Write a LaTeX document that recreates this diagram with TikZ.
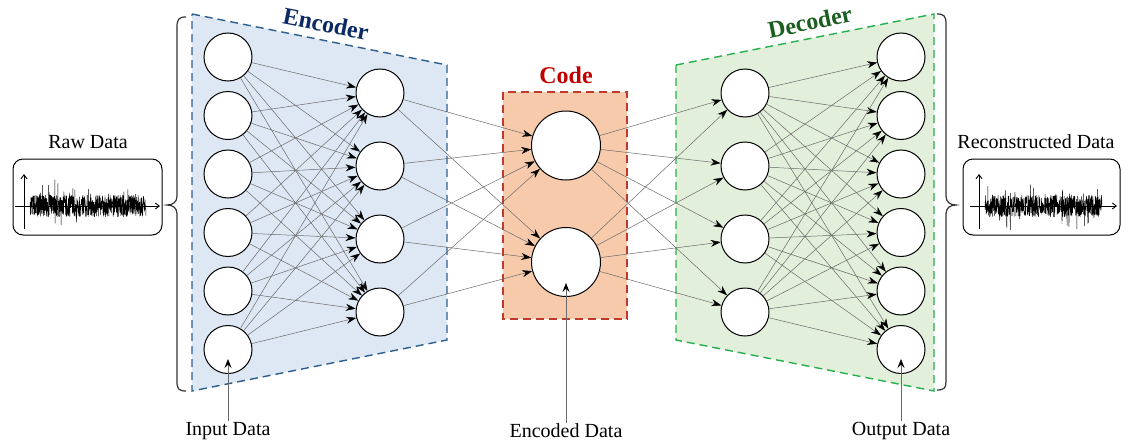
\documentclass[tikz,border=0pt]{standalone}
\usepackage{fontspec}
\setmainfont{Liberation Serif}
\usetikzlibrary{arrows.meta}

\definecolor{encfill}{HTML}{DEE8F4}
\definecolor{encline}{HTML}{2F5F8F}
\definecolor{enctext}{HTML}{0B2A63}
\definecolor{codefill}{HTML}{F7CAAC}
\definecolor{codeline}{HTML}{C0392B}
\definecolor{codetext}{HTML}{C00000}
\definecolor{decfill}{HTML}{E2EFDA}
\definecolor{decline}{HTML}{25B04D}
\definecolor{dectext}{HTML}{1B5E20}
\definecolor{linkgray}{HTML}{6A6A6A}

\begin{document}
\begin{tikzpicture}[x=1pt,y=-1pt,
  neuron/.style={circle,draw=black,fill=white,line width=1pt,minimum size=48pt,inner sep=0pt},
  bigneuron/.style={neuron,minimum size=69pt},
  link/.style={draw=linkgray,line width=0.5pt,-{Stealth[length=10pt,width=7pt,color=black]}},
  pointer/.style={draw=linkgray,line width=0.6pt,-{Stealth[length=9pt,width=7pt,inset=3.5pt,color=black]}},
  lbl/.style={font=\fontsize{20}{23}\selectfont,inner sep=1pt},
  title/.style={font=\fontsize{24}{28}\selectfont\bfseries,inner sep=0pt},
  region/.style={dash pattern=on 8pt off 5pt,line width=1.4pt},
  brace/.style={draw=black!80,line width=1.2pt},
  signalbox/.style={draw=black,rounded corners=10pt,line width=1pt,minimum width=149pt,minimum height=76pt,inner sep=0pt},
  axis/.style={line width=0.9pt,-{Straight Barb[length=4pt,width=6pt]}},
  signal/.style={line width=0.45pt,line join=bevel}
]
\useasboundingbox (0,0) rectangle (1133,447);

% layer regions
\filldraw[region,fill=encfill,draw=encline] (192,14) -- (447,65) -- (447,340) -- (192,391) -- cycle;
\filldraw[region,fill=codefill,draw=codeline] (503,92) rectangle (627,319);
\filldraw[region,fill=decfill,draw=decline] (676,65) -- (934,14) -- (934,391) -- (676,340) -- cycle;

% titles
\node[title,text=enctext,rotate=-11.3] (enctitle) at (326,24) {Encoder};
\node[title,text=codetext] (codetitle) at (566,75) {Code};
\node[title,text=dectext,rotate=11.3] (dectitle) at (810,22) {Decoder};

% neurons
\foreach \i/\y in {1/57,2/115.5,3/174,4/232.5,5/291,6/349.5} {
  \node[neuron] (e1\i) at (228,\y) {};
  \node[neuron] (d2\i) at (901,\y) {};
}
\foreach \j/\y in {1/93,2/166,3/239,4/312} {
  \node[neuron] (e2\j) at (380,\y) {};
  \node[neuron] (d1\j) at (745,\y) {};
}
\node[bigneuron] (c1) at (566,145.5) {};
\node[bigneuron] (c2) at (566,262) {};

% fully connected links
\foreach \i in {1,...,6} \foreach \j in {1,...,4} \draw[link] (e1\i) -- (e2\j);
\foreach \j in {1,...,4} \foreach \k in {1,2} \draw[link] (e2\j) -- (c\k);
\foreach \k in {1,2} \foreach \j in {1,...,4} \draw[link] (c\k) -- (d1\j);
\foreach \j in {1,...,4} \foreach \i in {1,...,6} \draw[link] (d1\j) -- (d2\i);

% braces
\draw[brace] (186,17) .. controls (179,17) and (177,19) .. (177,27) -- (177,196)
  .. controls (177,202) and (173,205) .. (167,205)
  .. controls (173,205) and (177,208) .. (177,214) -- (177,382)
  .. controls (177,389) and (179,391) .. (186,391);
\draw[brace] (937,14) .. controls (944,14) and (946,16) .. (946,24) -- (946,196)
  .. controls (946,202) and (950,205) .. (956,205)
  .. controls (950,205) and (946,208) .. (946,214) -- (946,382)
  .. controls (946,388) and (944,390) .. (937,390);

% raw signal
\node[lbl] (rawlbl) at (88,142) {Raw Data};
\node[signalbox] (rawbox) at (87.5,197) {};
\pgfmathsetseed{11}
\draw[signal] plot[domain=30:146,samples=700] (\x,{206+rand*11+(rnd>0.9)*rand*17});
\draw[axis] (24,229) -- (24,174);
\draw[axis] (15,206) -- (160,206);

% reconstructed signal
\node[lbl] (reclbl) at (1036,142) {Reconstructed Data};
\node[signalbox,minimum width=157pt] (recbox) at (1041.5,197) {};
\pgfmathsetseed{23}
\draw[signal] plot[domain=985:1102,samples=700] (\x,{206+rand*11+(rnd>0.9)*rand*17});
\draw[axis] (979,229) -- (979,174);
\draw[axis] (970,206) -- (1117,206);

% pointers to data
\node[lbl] (inlbl) at (228,431) {Input Data};
\coordinate (inpt) at (228,359);
\draw[pointer] (inlbl.north) -- (inpt);

\node[lbl] (enclbl) at (566,431) {Encoded Data};
\coordinate (encpt) at (566,283);
\draw[pointer] (enclbl.north) -- (encpt);

\node[lbl] (outlbl) at (901,431) {Output Data};
\coordinate (outpt) at (901,359);
\draw[pointer] (outlbl.north) -- (outpt);
\end{tikzpicture}
\end{document}
